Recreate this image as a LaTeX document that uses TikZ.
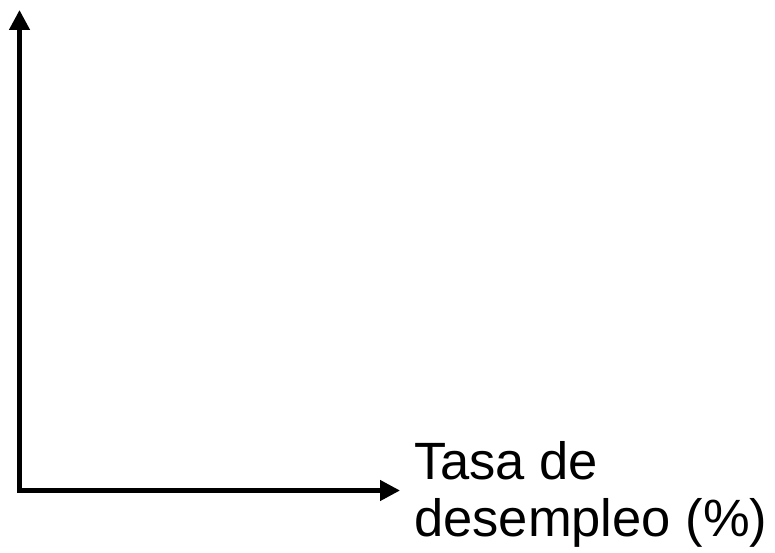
\documentclass[tikz,border=0pt]{standalone}
\usepackage{fontspec}
\setmainfont{Liberation Sans}
\usetikzlibrary{arrows.meta}
\begin{document}
\begin{tikzpicture}[x=1pt,y=1pt,
  axis/.style={line width=4.5pt,-{Triangle[length=20pt,width=20pt]}},
  lbl/.style={inner sep=0pt,align=left,font=\fontsize{52.5}{57}\selectfont}]
\useasboundingbox (0,0) rectangle (775,552);
\coordinate (origin) at (19.5,61.5);
\coordinate (ytop) at (19.5,542);
\coordinate (xend) at (400,61.5);
\draw[axis] ([xshift=-2.25pt]origin) -- (xend);
\draw[axis] ([yshift=-2.25pt]origin) -- (ytop);
\node[lbl,anchor=base west] (xlabel) at (414,15.3) {Tasa de\\desempleo (\%)};
\end{tikzpicture}
\end{document}
